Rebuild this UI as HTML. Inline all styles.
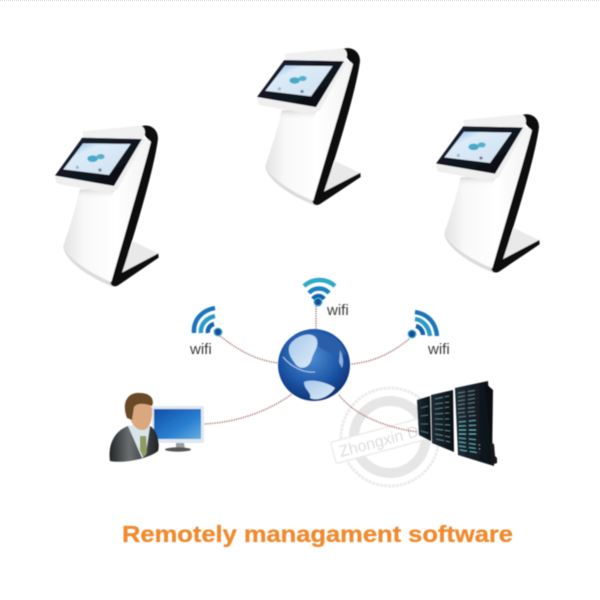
<!DOCTYPE html>
<html><head><meta charset="utf-8"><style>html,body{margin:0;padding:0;background:#fff}svg{display:block}</style></head>
<body>
<svg width="600" height="600" viewBox="0 0 600 600" xmlns="http://www.w3.org/2000/svg" font-family="'Liberation Sans',sans-serif">
<defs>
<linearGradient id="bezel" x1="0" y1="0" x2="1" y2="1"><stop offset="0" stop-color="#1b2333"/><stop offset="1" stop-color="#07090d"/></linearGradient>
<linearGradient id="scr" x1="0" y1="0" x2="1" y2="1"><stop offset="0" stop-color="#7fb2e4"/><stop offset=".3" stop-color="#dcebf8"/><stop offset="1" stop-color="#cfe0ef"/></linearGradient>
<linearGradient id="body" x1="0" y1="0" x2="1" y2="0"><stop offset="0" stop-color="#e2e2e4"/><stop offset=".22" stop-color="#f8f8f8"/><stop offset=".6" stop-color="#fff"/><stop offset="1" stop-color="#f2f2f2"/></linearGradient>
<linearGradient id="shade" x1="0" y1="0" x2="0" y2="1"><stop offset="0" stop-color="#c8c8c8" stop-opacity=".7"/><stop offset="1" stop-color="#fff" stop-opacity="0"/></linearGradient>
<radialGradient id="globe" cx=".45" cy=".38" r=".68"><stop offset="0" stop-color="#4f8fd4"/><stop offset=".6" stop-color="#1c55a6"/><stop offset="1" stop-color="#0a2a68"/></radialGradient>
<linearGradient id="land" x1="0" y1="0" x2="1" y2="1"><stop offset="0" stop-color="#a9c8ea"/><stop offset="1" stop-color="#dcecf8"/></linearGradient>
<linearGradient id="mon" x1="0" y1="0" x2="1" y2="1"><stop offset="0" stop-color="#0f4fa8"/><stop offset=".6" stop-color="#2a7fd0"/><stop offset="1" stop-color="#66aee0"/></linearGradient>
<linearGradient id="suit" x1="0" y1="0" x2="1" y2="0"><stop offset="0" stop-color="#232527"/><stop offset=".4" stop-color="#6b6e70"/><stop offset="1" stop-color="#202325"/></linearGradient>
<linearGradient id="rack" x1="0" y1="0" x2="1" y2="0"><stop offset="0" stop-color="#1f2c36"/><stop offset="1" stop-color="#0a0e12"/></linearGradient>
<filter id="b1" x="-5%" y="-5%" width="110%" height="110%"><feGaussianBlur stdDeviation=".6"/></filter>
<filter id="b2" x="-5%" y="-30%" width="110%" height="160%"><feGaussianBlur stdDeviation=".4"/></filter>
<g id="kiosk">
  <path d="M70 410 C72 445 130 495 218 530 L232 526 L300 440 L200 380 Z" fill="#dcdcdc"/>
  <path d="M278 393 L355 431 L242 492 L255 465 Z" fill="#e9e9e9"/>
  <path d="M296 52 C322 38 354 52 354 86 C344 170 288 360 246 488 L355 430 L356 443 L236 525 C222 534 208 528 212 508 C250 390 300 220 332 98 Z" fill="#0a0a0c"/>
  <path d="M120 238 C105 300 85 365 70 408 C72 430 130 482 214 516 C250 390 300 220 333 96 C325 84 312 84 300 100 L225 238 Z" fill="url(#body)"/>
  <path d="M120 238 L225 238 L212 268 L112 262 Z" fill="url(#shade)"/>
  <path d="M128 64 L300 47 C316 50 322 72 304 92 L130 86 Z" fill="#f0f0f0"/>
  <path d="M45 198 L225 224 L300 90 L318 84 L232 240 L195 248 L50 221 Z" fill="#efefef"/>
  <path d="M127 83 L306 87 L222 228 L45 197 Z" fill="url(#bezel)"/>
  <path d="M129 100 L272 102 L207 195 L70 178 Z" fill="url(#scr)"/>
  <ellipse cx="158" cy="146" rx="16" ry="10" fill="#49aac8"/><ellipse cx="182" cy="140" rx="12" ry="8" fill="#52b2cf"/>
  <circle cx="112" cy="172" r="5" fill="#a6b9d2"/><circle cx="180" cy="180" r="5" fill="#72869e"/>
</g>
</defs>

<line x1="0" y1="0.5" x2="600" y2="0.5" stroke="#ddd" stroke-dasharray="1 1"/>

<g filter="url(#b1)">
  <use href="#kiosk" transform="translate(40,110) scale(.3333)"/>
  <use href="#kiosk" transform="translate(242,33) scale(.3333,.325)"/>
  <use href="#kiosk" transform="translate(421,99) scale(.3333,.328)"/>
</g>

<!-- watermark -->
<g opacity=".42" filter="url(#b2)">
  <circle cx="390" cy="437" r="49" fill="none" stroke="#d0d0d0" stroke-width="3" stroke-dasharray="3 1"/>
  <circle cx="390" cy="437" r="36" fill="none" stroke="#c4c4c4" stroke-width="10"/>
  <g transform="rotate(-15 374 442)">
    <rect x="332" y="431" width="100" height="22" fill="#fff" stroke="#d0d0d0" stroke-width="1.5" rx="2"/>
    <text x="338" y="448" font-size="16" fill="#aaa">Zhongxin Dis</text>
  </g>
</g>

<!-- connectors -->
<g fill="none" stroke="#a8706c" stroke-width="1.5" stroke-dasharray="1.2 1.2" filter="url(#b2)">
  <path d="M220 336 C238 350 255 360 278 363"/>
  <path d="M316 306 L316 330"/>
  <path d="M409 339 C393 352 375 362 351 364"/>
  <path d="M205 424 C240 422 270 410 292 394"/>
  <path d="M339 395 C352 412 378 426 417 432"/>
</g>

<!-- globe -->
<g filter="url(#b2)">
  <circle cx="314" cy="365" r="36" fill="url(#globe)"/>
  <path d="M292 342 C300 334 312 332 316 338 C320 345 314 352 312 358 C310 368 300 372 294 362 C288 354 287 347 292 342Z" fill="url(#land)"/>
  <path d="M318 334 C332 333 342 342 346 354 C338 358 326 352 318 346Z" fill="#2c5fa8"/>
  <path d="M304 382 C314 378 330 384 335 388 C330 396 318 402 310 398 C312 392 304 390 304 382Z" fill="url(#land)"/>
  <path d="M340 350 C343 356 344 362 342 368 L339 362Z" fill="#8fb3dd"/>
  <path d="M283 357 C292 368 305 373 315 372" fill="none" stroke="#a8c8ea" stroke-width="1"/>
</g>

<!-- wifi icons -->
<g fill="none" stroke-width="4.4" filter="url(#b2)">
  <path d="M304 286 C313 278 326 278 335 286" stroke="#2fa9c8"/>
  <path d="M309 293 C314 287 324 287 329 293" stroke="#1d82c2"/>
  <path d="M313 299 C316 295 321 295 324 299" stroke="#1264ae"/>
  <path d="M194 333 C193 319 203 310 215 308" stroke="#1a74ba"/>
  <path d="M201 333 C200 325 206 318 215 316" stroke="#2a9ac6"/>
  <path d="M208 333 C207 329 210 325 214 324" stroke="#1264ae"/>
  <path d="M415 312 C428 314 436 323 437 336" stroke="#1a74ba"/>
  <path d="M415 319 C423 320 429 327 430 336" stroke="#2a9ac6"/>
  <path d="M416 326 C420 327 423 331 423 335" stroke="#1264ae"/>
</g>
<g filter="url(#b2)">
  <circle cx="318" cy="302" r="3.8" fill="#124f96" stroke="#3ea6d6" stroke-width="1.2"/>
  <circle cx="218" cy="332" r="3.8" fill="#124f96" stroke="#3ea6d6" stroke-width="1.2"/>
  <circle cx="412" cy="334" r="3.8" fill="#124f96" stroke="#3ea6d6" stroke-width="1.2"/>
  <g font-size="15" fill="#3b3b3b">
    <text x="327" y="315">wifi</text>
    <text x="190" y="354">wifi</text>
    <text x="428" y="354">wifi</text>
  </g>
</g>

<!-- monitor + person -->
<g filter="url(#b2)">
  <rect x="152" y="406" width="52" height="37" rx="2" fill="#dfe8ef"/>
  <rect x="154" y="409" width="47" height="30" fill="url(#mon)"/>
  <path d="M176 443 L184 443 L185 449 L176 449Z" fill="#9a9ea2"/>
  <ellipse cx="178" cy="449.500" rx="13" ry="2.200" fill="#555"/>
  <path d="M110 461 C108 448 112 432 128 426 L150 426 C158 430 160 445 158 451 C150 458 125 464 110 461Z" fill="url(#suit)"/>
  <path d="M128 426 L139 424 L150 426 L146 454 L142 458 Z" fill="#d7e4ea"/>
  <path d="M140 436 L146 436 L147 452 L143 457 L140 450Z" fill="#8f9a62"/>
  <path d="M129 404 C129 396 138 394 146 398 L152 408 C153 420 149 431 142 430 C134 430 127 418 129 404Z" fill="#dba77f"/>
  <path d="M127 418 C121 402 128 392 140 393 C150 393 155 399 152 406 C144 403 137 403 134 407 L132 420 Z" fill="#6b4a26"/>
</g>

<!-- servers -->
<g filter="url(#b2)">
  <path d="M417 400 L430 396 L431 441 L419 435Z" fill="url(#rack)"/>
  <path d="M431 395 L453 390 L454 452 L432 443Z" fill="url(#rack)"/>
  <path d="M455 388 L488 381 L494 466 L458 455Z" fill="url(#rack)"/>
  <path d="M484 382 L493 390 L492 462 L494 466 Z" fill="#0d0f12"/>
  <path d="M490 443 L494 444 L495 456 L497 458 L497 463 L491 465Z" fill="#15171a"/>
  <g stroke-width=".9" stroke-dasharray="7 3" opacity=".9">
    <path d="M458 393 L478 390M458 397 L478 394M458 401 L478 398M458 405 L478 402M458 409 L478 407M458 413 L478 411M459 417 L479 415" stroke="#6e8890"/>
    <path d="M459 422 L479 420M459 426 L479 425M459 430 L479 430M459 434 L479 434M459 438 L479 440M459 442 L480 445M459 446 L480 449M460 450 L480 453" stroke="#6ec0c8"/>
  </g>
  <g stroke="#5d8a92" stroke-width=".8" stroke-dasharray="8 2">
    <path d="M435 399 L449 396M435 404 L449 402M435 409 L449 407M435 414 L449 413M435 419 L449 419M435 424 L450 425M435 429 L450 431M435 434 L450 437M436 439 L450 442"/>
    <path d="M421 408 L428 406M421 416 L428 415M421 424 L428 424M421 431 L428 433" stroke="#4d7d88"/>
  </g>
</g>

<text x="122" y="542" font-size="23.500" font-weight="bold" fill="#ef8a2e" stroke="#ef8a2e" stroke-width=".3" textLength="391" lengthAdjust="spacingAndGlyphs" filter="url(#b2)">Remotely managament software</text>
</svg>
</body></html>
